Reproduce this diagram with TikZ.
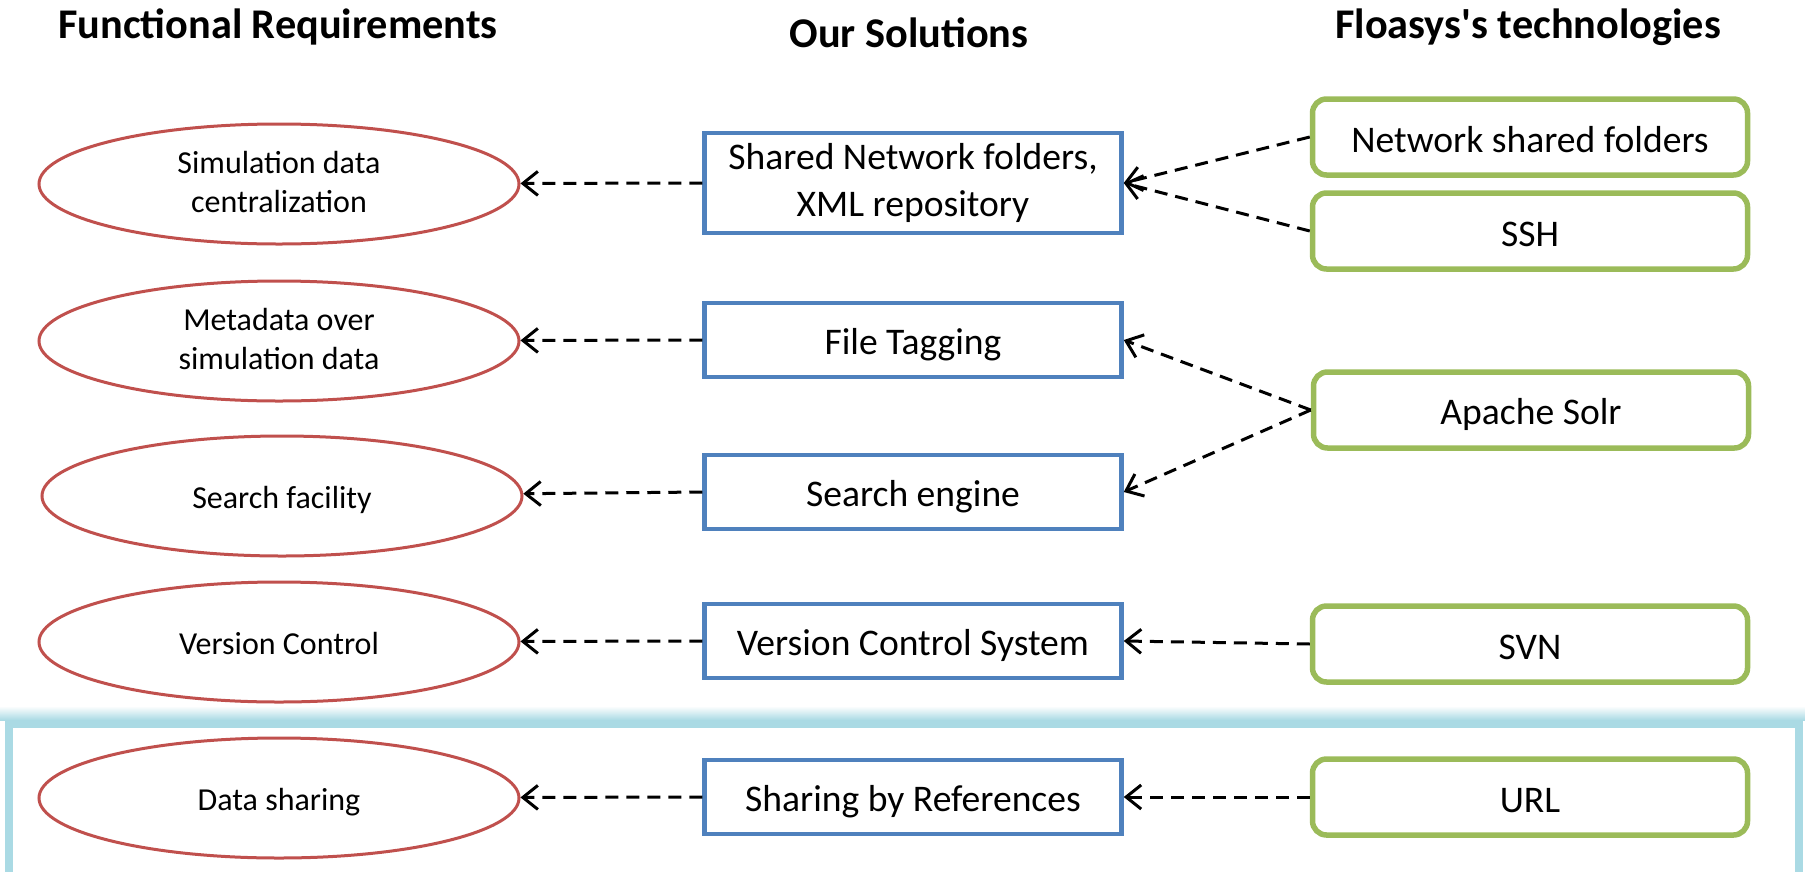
\documentclass[tikz,border=0pt]{standalone}
\usepackage{fontspec}
\setmainfont{Carlito}
\usetikzlibrary{arrows.meta,shapes.geometric}
\definecolor{reqred}{RGB}{192,80,77}
\definecolor{solblue}{RGB}{79,129,189}
\definecolor{techgreen}{RGB}{155,187,89}
\definecolor{hlblue}{RGB}{170,218,228}
\newcommand{\cellstrut}{\rule[-0.15em]{0pt}{1.1em}}
\tikzset{
  strutted/.style={execute at begin node=\cellstrut, execute at end node=\cellstrut},
  colhead/.style={font=\fontsize{42.3}{50}\selectfont\bfseries, anchor=base},
  req/.style={strutted, ellipse, draw=reqred, line width=3pt, minimum width=480pt, minimum height=120pt, inner sep=2pt, align=center, font=\fontsize{32}{39}\selectfont},
  sol/.style={strutted, rectangle, draw=solblue, line width=4.5pt, minimum width=417pt, minimum height=74pt, inner sep=3pt, align=center, font=\fontsize{37.6}{47}\selectfont},
  tech/.style={strutted, rectangle, rounded corners=14pt, draw=techgreen, line width=5.5pt, minimum width=435pt, minimum height=76pt, inner sep=3pt, align=center, font=\fontsize{37.6}{47}\selectfont},
  flow/.style={line width=3pt, dash pattern=on 13pt off 8pt, -{Straight Barb[length=15pt,width=24pt]}}
}
\begin{document}
\begin{tikzpicture}[x=1pt,y=-1pt]
      \useasboundingbox (0,0) rectangle (1805,871);
      \shade[top color=white, bottom color=hlblue] (0,706) rectangle (1805,720);
      \draw[hlblue, line width=8pt] (9,724) rectangle (1799,900);
      \node[colhead] (hreq) at (278,38) {Functional Requirements};
      \node[colhead] (hsol) at (909,47) {Our Solutions};
      \node[colhead] (htech) at (1528,38) {Floasys\textquotesingle s technologies};
      \node[req] (rcent) at (279,184) {Simulation data\\centralization};
      \node[req] (rmeta) at (279,341) {Metadata over\\simulation data};
      \node[req] (rsrch) at (282,496) {Search facility};
      \node[req] (rver) at (279,642) {Version Control};
      \node[req] (rshare) at (279,798) {Data sharing};
      \node[sol, minimum height=100pt] (snet) at (913,183) {Shared Network folders,\\XML repository};
      \node[sol] (stag) at (913,340) {File Tagging};
      \node[sol] (seng) at (913,492) {Search engine};
      \node[sol] (svcs) at (913,641) {Version Control System};
      \node[sol] (sref) at (913,797) {Sharing by References};
      \node[tech] (tnet) at (1530,137) {Network shared folders};
      \node[tech] (tssh) at (1530,231) {SSH};
      \node[tech] (tsolr) at (1531,410) {Apache Solr};
      \node[tech] (tsvn) at (1530,644) {SVN};
      \node[tech] (turl) at (1530,797) {URL};
      \draw[flow] (snet.west) -- (rcent);
      \draw[flow] (stag.west) -- (rmeta);
      \draw[flow] (seng.west) -- (rsrch);
      \draw[flow] (svcs.west) -- (rver);
      \draw[flow] (sref.west) -- (rshare);
      \draw[flow] (tnet.west) -- (snet.east);
      \draw[flow] (tssh.west) -- (snet.east);
      \draw[flow] (tsolr.west) -- (stag.east);
      \draw[flow] (tsolr.west) -- (seng.east);
      \draw[flow] (tsvn.west) -- (svcs.east);
      \draw[flow] (turl.west) -- (sref.east);
\end{tikzpicture}
\end{document}
